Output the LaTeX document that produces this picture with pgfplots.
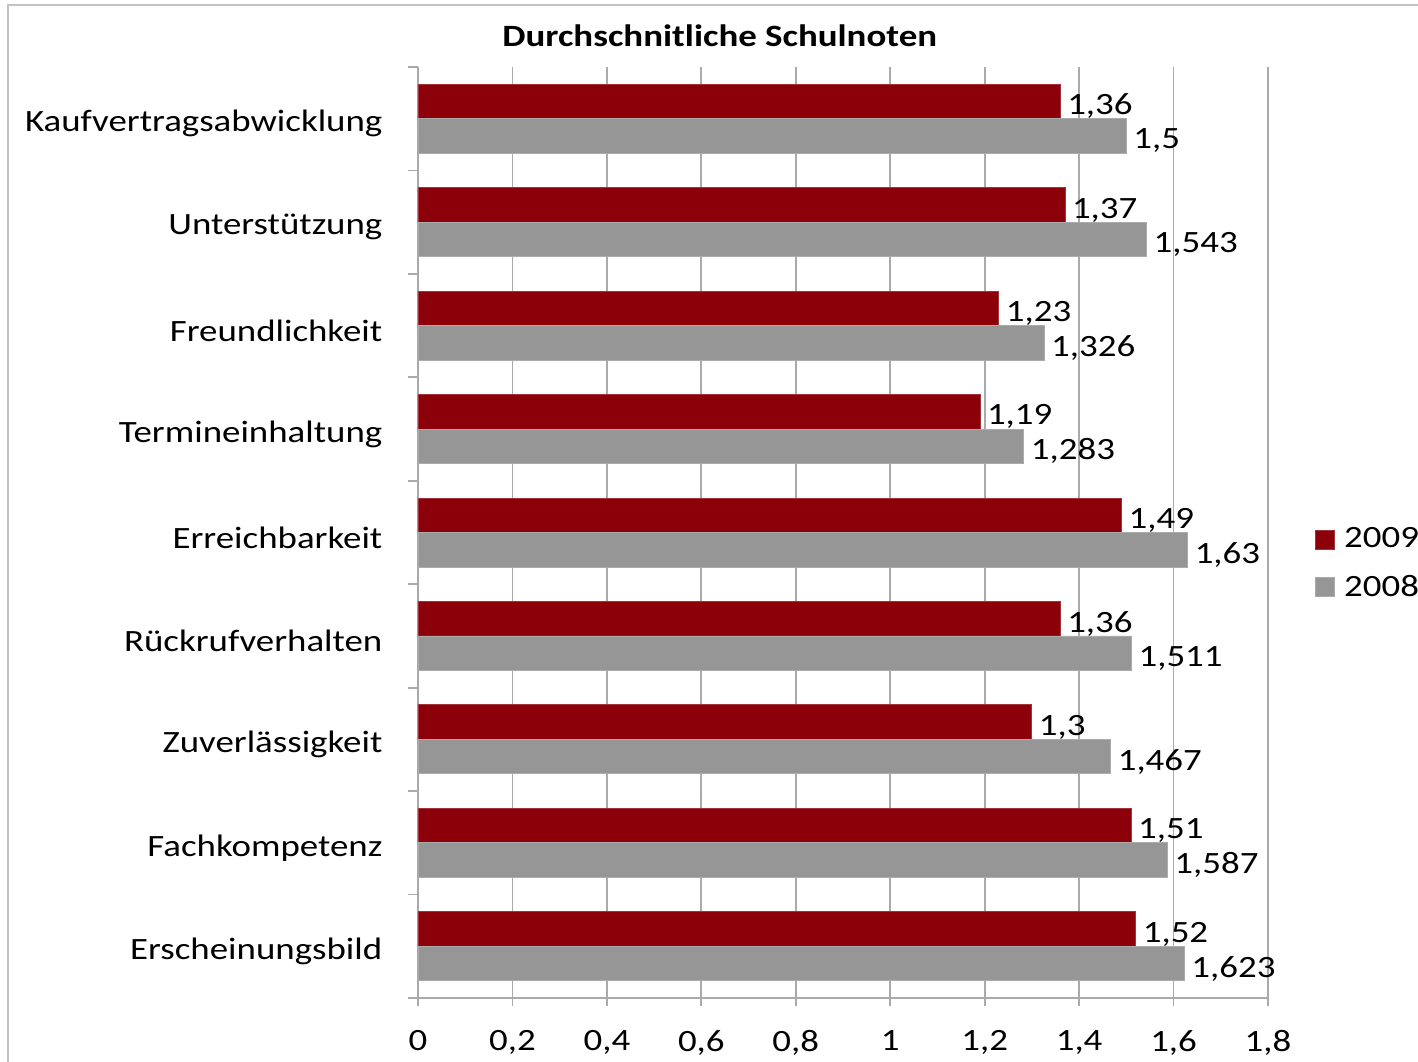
\documentclass[border=0pt]{standalone}
\usepackage{fontspec}
\setmainfont{Carlito}[FakeStretch=1.19]
\usepackage{pgfplots}
\pgfplotsset{compat=1.18}
\definecolor{barred}{RGB}{140,0,10}
\definecolor{bargray}{RGB}{150,150,150}
\definecolor{gridgray}{RGB}{170,170,170}
\definecolor{framegray}{RGB}{195,195,195}
\begin{document}
\begin{tikzpicture}
\path[use as bounding box] (-209pt,-31.5pt) rectangle (500pt,499pt);
\draw[framegray, line width=1pt] (-205pt,-60pt) -- (-205pt,496.5pt) -- (560pt,496.5pt);
\begin{axis}[
  scale only axis,
  width=425pt, height=465.5pt,
  xbar,
  xmin=0, xmax=1.8,
  ymin=-0.5, ymax=8.5,
  xtick={0,0.2,0.4,0.6,0.8,1,1.2,1.4,1.6,1.8},
  ytick={0,1,2,3,4,5,6,7,8},
  yticklabels={Erscheinungsbild,Fachkompetenz,Zuverlässigkeit,Rückrufverhalten,Erreichbarkeit,Termineinhaltung,Freundlichkeit,Unterstützung,Kaufvertragsabwicklung},
  minor ytick={-0.5,0.5,1.5,2.5,3.5,4.5,5.5,6.5,7.5,8.5},
  axis x line*=bottom,
  axis y line*=left,
  axis line style={gridgray, line width=0.9pt},
  tick align=outside,
  major tick length=4pt,
  minor tick length=5pt,
  major y tick style={draw=none},
  minor y tick style={gridgray, line width=0.9pt},
  major x tick style={gridgray, line width=0.9pt},
  xmajorgrids,
  major grid style={gridgray, line width=0.9pt},
  /pgf/number format/.cd, use comma, assume math mode=true, precision=3,
  /pgfplots/.cd,
  tick label style={font=\fontsize{15.5pt}{18pt}\selectfont},
  yticklabel style={xshift=-10.3pt, yshift=-2.5pt},
  xticklabel style={yshift=-8.5pt},
  bar width=17.25pt,
  nodes near coords,
  every node near coord/.append style={font=\fontsize{15.5pt}{18pt}\selectfont, black, yshift=-2.5pt},
  title={\textbf{Durchschnitliche Schulnoten}},
  title style={font=\fontsize{15.5pt}{18pt}\selectfont, at={(0.355,1)}, anchor=center, yshift=9.5pt},
  legend style={draw=none, fill=none, at={(1.0553,0.4667)}, anchor=west,
    font=\fontsize{15.5pt}{18pt}\selectfont, inner sep=0pt, row sep=8pt,
    nodes={inner sep=2pt},
    /tikz/every odd column/.append style={column sep=2.5pt}},
  legend cell align=left,
  legend image code/.code={\fill[#1] (0pt,-4.75pt) rectangle (9.5pt,4.75pt);},
]
\addplot[fill=barred, draw=barred!80!white, line width=0.4pt, bar shift=8.625pt] coordinates {
(1.52,0) (1.51,1) (1.3,2) (1.36,3) (1.49,4) (1.19,5) (1.23,6) (1.37,7) (1.36,8)};
\addlegendentry{2009}
\addplot[fill=bargray, draw=bargray!80!white, line width=0.4pt, bar shift=-8.625pt] coordinates {
(1.623,0) (1.587,1) (1.467,2) (1.511,3) (1.63,4) (1.283,5) (1.326,6) (1.543,7) (1.5,8)};
\addlegendentry{2008}
\end{axis}
\end{tikzpicture}
\end{document}
